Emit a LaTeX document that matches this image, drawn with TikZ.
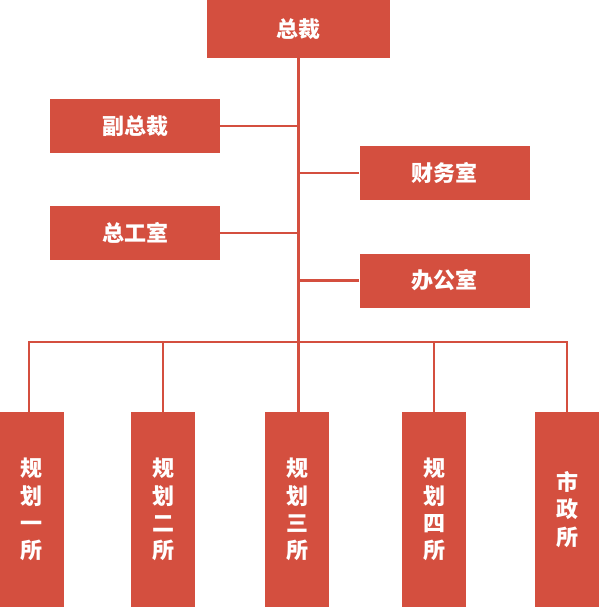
\documentclass[tikz,border=0pt]{standalone}
\usepackage{fontspec}
\newfontfamily\cjk{Noto Sans CJK SC}
\definecolor{orgred}{HTML}{D44F3F}
\usetikzlibrary{positioning}

\begin{document}
\begin{tikzpicture}
		[x=0.75pt,y=-0.75pt, box/.style={fill=orgred, text=white, inner sep=0, align=center, font=\cjk\bfseries\fontsize{16.5}{20.5}\selectfont}, wide/.style={box, minimum width=127.5pt, minimum height=40.5pt}, tall/.style={box, minimum width=48pt, minimum height=146.25pt}, link/.style={draw=orgred, line width=2.2pt}]
		\useasboundingbox (0,0) rectangle (599,607);
		\node[box, minimum width=137.25pt, minimum height=43.5pt] (zc) at (298.5,29) {总裁};
		\node[wide] (fzc) at (135,126) {副总裁};
		\node[wide] (zgs) at (135,233) {总工室};
		\node[wide] (cws) at (444.5,173) {财务室};
		\node[wide] (bgs) at (444.5,280.5) {办公室};
		\node[tall] (s1) at (32,509.5) {规\\划\\一\\所};
		\node[tall] (s2) at (163,509.5) {规\\划\\二\\所};
		\node[tall] (s3) at (297,509.5) {规\\划\\三\\所};
		\node[tall] (s4) at (434,509.5) {规\\划\\四\\所};
		\node[tall] (s5) at (567,509.5) {市\\政\\所};
		\coordinate (bus) at (0,342);
		\coordinate (s1top) at ([xshift=-2.25pt]s1.north);
		\draw[link] (zc.south) -- (zc.south |- s3.north);
		\draw[link] (fzc.east) -- (fzc.east -| zc.south);
		\draw[link] (zgs.east) -- (zgs.east -| zc.south);
		\draw[link] (cws.west) -- (cws.west -| zc.south);
		\draw[link] (bgs.west) -- (bgs.west -| zc.south);
		\draw[link] (s1top) -- (s1top |- bus) -- (s5.north |- bus) -- (s5.north);
		\foreach \i in {2,4}
		{
			\draw[link] (s\i.north) -- (s\i.north |- bus);
		}
	\end{tikzpicture}
\end{document}
